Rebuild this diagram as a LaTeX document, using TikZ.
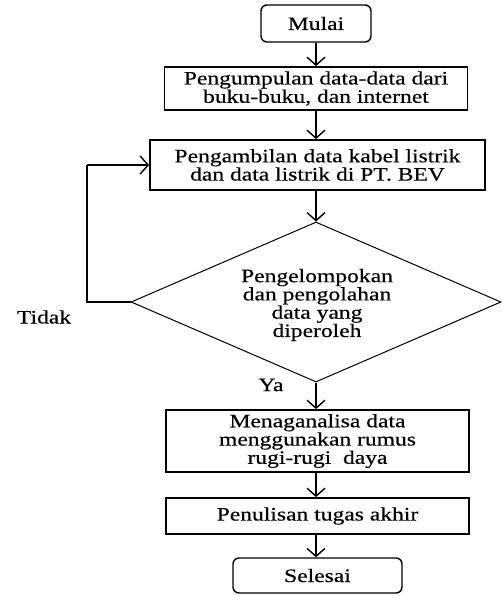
\documentclass[tikz,border=0pt]{standalone}
\usepackage{fontspec}
\setmainfont{Liberation Serif}
\newfontfamily\wide[FakeStretch=1.24,FakeBold=0.4]{Liberation Serif}
\usetikzlibrary{arrows.meta,shapes.geometric}
\begin{document}
\begin{tikzpicture}[x=1pt,y=-1pt,
  txt/.style={font=\wide\fontsize{19}{16}\selectfont, align=center, text=black},
  procbox/.style={txt, draw, line width=1.8pt, inner sep=0pt},
  termbox/.style={txt, draw, line width=1.4pt, rounded corners=6pt, inner sep=0pt},
  decbox/.style={txt, draw, diamond, line width=1pt, inner sep=0pt},
  arr/.style={line width=1.4pt, -{Straight Barb[length=8pt,width=18pt,line width=1.4pt]}},
  lnk/.style={line width=1.4pt}]
\useasboundingbox (0,0) rectangle (501,596);
\node[termbox, minimum width=110pt, minimum height=37pt] (mulai) at (316,23.5) {Mulai};
\node[procbox, minimum width=303pt, minimum height=43pt] (b2) at (316,88.5) {Pengumpulan data-data dari\\buku-buku, dan internet};
\node[procbox, minimum width=335pt, minimum height=50pt] (b3) at (317.5,165) {Pengambilan data kabel listrik\\dan data listrik di PT. BEV};
\node[decbox, minimum width=370pt, minimum height=160pt] (d) at (316,302) {};
\node[txt] (dt) at (317,305) {Pengelompokan\\dan pengolahan\\data yang\\diperoleh};
\node[procbox, minimum width=303pt, minimum height=62pt] (b4) at (317.5,441) {Menaganalisa data\\menggunakan rumus\\rugi-rugi~ daya};
\node[procbox, minimum width=303pt, minimum height=36pt] (b5) at (317.5,516) {Penulisan tugas akhir};
\node[termbox, minimum width=169pt, minimum height=35pt] (sel) at (317.5,575.5) {Selesai};
\node[txt] (tidak) at (44,317) {Tidak};
\node[txt] (ya) at (271,385) {Ya};
\coordinate (c1) at (87,302);
\coordinate (c2) at (87,165);
\draw[arr] (mulai.south) -- (mulai.south |- b2.north);
\draw[arr] (b2.south) -- (b2.south |- b3.north);
\draw[arr] (b3.south -| d.north) -- (d.north);
\draw[arr] (d.south) -- (d.south |- b4.north);
\draw[arr] (d.south |- b4.south) -- (d.south |- b5.north);
\draw[arr] (d.south |- b5.south) -- (d.south |- sel.north);
\draw[lnk] (d.west) -- (c1) -- (c2);
\draw[arr] (c2) -- (b3.west);
\end{tikzpicture}
\end{document}
